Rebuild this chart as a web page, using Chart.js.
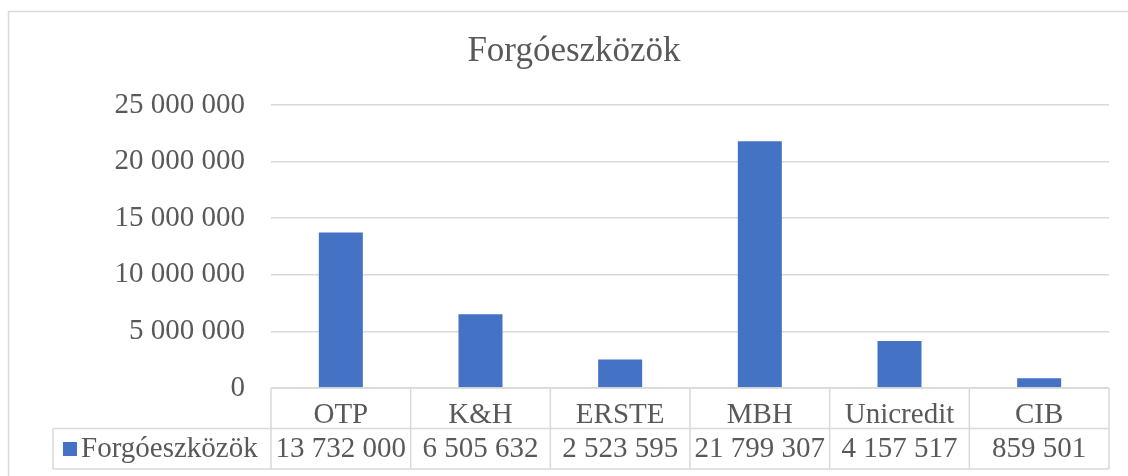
<!DOCTYPE html>
<html>
<head>
<meta charset="utf-8">
<script src="https://cdn.jsdelivr.net/npm/chart.js@4.4.0/dist/chart.umd.min.js"></script>
<style>
html, body { margin: 0; padding: 0; background: #fff; }
#wrap { width: 1128px; height: 476px; position: relative; }
</style>
</head>
<body>
<div id="wrap"><canvas id="chart"></canvas></div>
<script>
// data
const banks = ['OTP', 'K&H', 'ERSTE', 'MBH', 'Unicredit', 'CIB'];
const seriesName = 'Forgóeszközök';
const currentAssets = [13732000, 6505632, 2523595, 21799307, 4157517, 859501];
const yTicks = [0, 5000000, 10000000, 15000000, 20000000, 25000000];

const textColor = '#595959';
const lineColor = '#d9d9d9';
const barColor = '#4472C4';
const fontFamily = '"Liberation Serif", "Times New Roman", serif';

function fmt(n) {
    return String(n).replace(/\B(?=(\d{3})+(?!\d))/g, ' ');
}

// draws the data table under the axis + outer frame
const dataTable = {
    id: 'dataTable',
    afterDraw(chart) {
        const ctx = chart.ctx;
        const area = chart.chartArea;
        const x = chart.scales.x;
        const n = banks.length;
        const colW = (area.right - area.left) / n;
        const row1 = area.bottom;
        const row2 = 428.5;
        const row3 = 469;
        const legendLeft = 53;

        ctx.save();
        ctx.strokeStyle = lineColor;
        ctx.lineWidth = 1.5;

        // outer chart frame
        ctx.strokeRect(8.5, 11.5, 1200, 600);

        ctx.beginPath();
        ctx.moveTo(area.left, row1); ctx.lineTo(area.right, row1);
        ctx.moveTo(legendLeft, row2); ctx.lineTo(area.right, row2);
        ctx.moveTo(legendLeft, row3); ctx.lineTo(area.right, row3);
        ctx.moveTo(legendLeft, row2); ctx.lineTo(legendLeft, row3);
        for (let i = 0; i <= n; i++) {
            const px = area.left + i * colW;
            ctx.moveTo(px, row1); ctx.lineTo(px, row3);
        }
        ctx.stroke();

        // legend key + series name
        ctx.fillStyle = barColor;
        ctx.fillRect(63, 442, 14, 14);
        ctx.fillStyle = textColor;
        ctx.font = '29px ' + fontFamily;
        ctx.textBaseline = 'alphabetic';
        ctx.textAlign = 'left';
        ctx.fillText(seriesName, 81, 457);

        // values row
        ctx.textAlign = 'center';
        currentAssets.forEach((v, i) => {
            ctx.fillText(fmt(v), x.getPixelForValue(i), 457);
        });
        ctx.restore();
    }
};

const ctx = document.getElementById('chart').getContext('2d');
new Chart(ctx, {
    type: 'bar',
    data: {
        labels: banks,
        datasets: [{
            label: seriesName,
            data: currentAssets,
            backgroundColor: barColor,
            barPercentage: 0.315,
            categoryPercentage: 1
        }]
    },
    options: {
        responsive: true,
        maintainAspectRatio: false,
        animation: false,
        layout: {
            padding: { top: 11, left: 39, right: 19, bottom: 6 }
        },
        plugins: {
            legend: { display: false },
            tooltip: { enabled: false },
            title: {
                display: true,
                text: seriesName,
                color: textColor,
                font: { family: fontFamily, size: 35, weight: 'normal' },
                padding: { top: 20, bottom: 32 }
            }
        },
        scales: {
            x: {
                grid: { display: false },
                border: { display: false },
                ticks: {
                    color: textColor,
                    font: { family: fontFamily, size: 29 },
                    padding: 2,
                    maxRotation: 0
                },
                afterFit(scale) { scale.height = 82; }
            },
            y: {
                min: yTicks[0],
                max: yTicks[yTicks.length - 1],
                grid: { color: lineColor, lineWidth: 1.5, drawTicks: false },
                border: { display: false },
                ticks: {
                    stepSize: yTicks[1] - yTicks[0],
                    color: textColor,
                    padding: 26,
                    font: { family: fontFamily, size: 29 },
                    callback: v => fmt(v)
                },
                afterFit(scale) { scale.width = 232; }
            }
        }
    },
    plugins: [dataTable]
});
</script>
</body>
</html>
